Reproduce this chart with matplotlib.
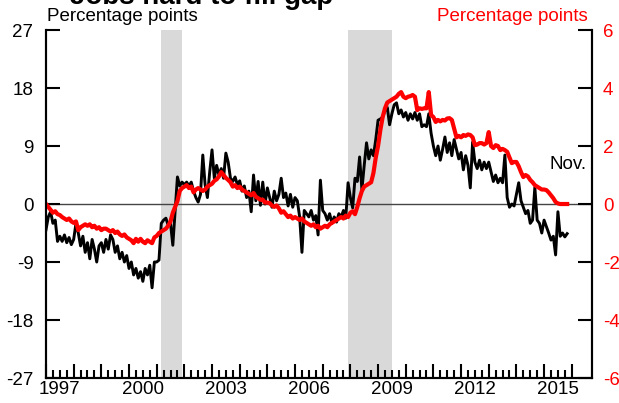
import numpy as np
import matplotlib
matplotlib.use('Agg')
import matplotlib.pyplot as plt

plt.rcParams['font.family'] = ['Liberation Sans', 'DejaVu Sans']
plt.rcParams['axes.unicode_minus'] = False

# monthly values, Jan 1997 - Nov 2015
# black line: left axis (percentage points)
b1997 = [-4.0, -2.0, -1.2, -3.0, -2.5, -5.8, -5.0, -5.8, -4.8, -6.0, -5.2, -6.3]
b1998 = [-5.5, -3.0, -4.5, -6.5, -5.0, -7.5, -6.0, -8.5, -5.5, -7.0, -9.0, -6.5]
b1999 = [-6.0, -7.5, -5.5, -7.0, -4.8, -5.5, -7.5, -6.5, -8.5, -7.5, -9.0, -8.0]
b2000 = [-10.0, -9.0, -11.0, -10.0, -11.5, -10.5, -12.0, -10.0, -11.0, -9.5, -13.0, -9.0]
b2001 = [-9.0, -8.7, -3.0, -2.5, -2.2, -3.3, -3.0, -6.4, -1.0, 4.2, 2.8, 3.4]
b2002 = [3.0, 3.4, 2.8, 3.4, 2.0, 1.0, 0.3, 1.5, 7.6, 3.0, 1.0, 5.0]
b2003 = [8.4, 4.0, 6.0, 4.5, 5.5, 4.0, 7.9, 6.5, 4.0, 3.5, 4.2, 3.0]
b2004 = [3.6, 2.0, 2.8, 1.0, 2.0, -1.2, 4.5, 0.5, 3.5, -0.2, 3.4, 0.0]
b2005 = [2.5, 1.0, -0.5, 2.0, 0.5, 1.5, 4.0, 1.0, 1.7, -0.3, 1.5, -0.5]
b2006 = [1.0, 0.5, -2.0, -7.5, -1.0, -1.5, -2.0, -1.0, -2.5, -1.8, -4.8, 3.7]
b2007 = [-1.0, -1.5, -2.5, -1.5, -3.0, -2.0, -2.8, -1.5, -2.0, -1.0, -2.2, 3.3]
b2008 = [1.0, -0.6, 4.0, 3.5, 7.3, 2.2, 6.0, 9.5, 7.0, 8.4, 7.5, 10.0]
b2009 = [13.0, 13.2, 13.5, 14.5, 15.0, 12.3, 14.0, 15.4, 15.7, 14.0, 14.6, 13.5]
b2010 = [14.2, 13.0, 14.0, 13.2, 14.2, 13.0, 14.0, 12.0, 12.3, 12.0, 14.0, 11.0]
b2011 = [9.0, 7.5, 9.0, 6.8, 8.5, 10.4, 8.0, 9.5, 7.5, 10.0, 8.5, 7.0]
b2012 = [8.0, 5.3, 7.5, 6.0, 2.5, 9.6, 6.5, 5.5, 6.8, 5.3, 6.5, 5.5]
b2013 = [6.5, 5.0, 3.5, 4.5, 3.3, 4.0, 3.3, 7.6, 1.0, -0.5, 0.0, -0.3]
b2014 = [1.5, 3.3, 0.5, -0.5, -1.5, -1.0, -3.0, -2.5, 2.6, -2.5, -3.0, -4.5]
b2015 = [-2.5, -3.5, -4.5, -5.6, -5.0, -7.9, -1.2, -5.0, -4.5, -5.1, -4.6]

# red line: right axis (percentage points)
r1997 = [0.0, -0.1, -0.2, -0.3, -0.25, -0.35, -0.38, -0.45, -0.5, -0.55, -0.5, -0.6]
r1998 = [-0.65, -0.6, -0.9, -0.8, -0.75, -0.7, -0.75, -0.7, -0.8, -0.75, -0.85, -0.8]
r1999 = [-0.9, -0.85, -0.85, -0.9, -0.95, -0.9, -1.0, -0.95, -1.05, -1.1, -1.05, -1.15]
r2000 = [-1.2, -1.25, -1.35, -1.2, -1.3, -1.2, -1.3, -1.35, -1.25, -1.3, -1.35, -1.15]
r2001 = [-1.1, -1.0, -0.95, -0.9, -0.85, -0.75, -0.6, -0.3, -0.1, 0.1, 0.45, 0.55]
r2002 = [0.6, 0.65, 0.55, 0.6, 0.4, 0.5, 0.55, 0.5, 0.45, 0.5, 0.6, 0.65]
r2003 = [0.7, 0.8, 0.85, 0.95, 1.1, 1.0, 0.9, 0.83, 0.75, 0.6, 0.65, 0.55]
r2004 = [0.6, 0.5, 0.45, 0.4, 0.35, 0.3, 0.38, 0.25, 0.2, 0.15, 0.15, 0.05]
r2005 = [0.05, 0.03, -0.05, -0.1, -0.05, -0.15, -0.3, -0.25, -0.35, -0.45, -0.4, -0.5]
r2006 = [-0.45, -0.5, -0.55, -0.5, -0.6, -0.65, -0.7, -0.75, -0.7, -0.8, -0.75, -0.85]
r2007 = [-0.8, -0.75, -0.8, -0.7, -0.65, -0.6, -0.55, -0.5, -0.45, -0.5, -0.4, -0.45]
r2008 = [-0.3, -0.25, -0.35, -0.1, 0.2, 0.45, 0.6, 0.65, 0.7, 0.75, 1.07, 1.6]
r2009 = [2.0, 2.55, 3.0, 3.3, 3.5, 3.55, 3.6, 3.65, 3.7, 3.8, 3.86, 3.7]
r2010 = [3.65, 3.7, 3.72, 3.76, 3.7, 3.24, 3.3, 3.28, 3.3, 3.3, 3.86, 3.07]
r2011 = [3.0, 2.83, 2.9, 2.85, 2.9, 2.88, 2.95, 2.96, 2.9, 2.6, 2.3, 2.35]
r2012 = [2.3, 2.38, 2.35, 2.4, 2.38, 2.3, 2.03, 2.05, 2.1, 2.1, 2.05, 2.1]
r2013 = [2.48, 2.0, 1.93, 2.03, 2.0, 1.86, 1.9, 1.86, 1.8, 1.6, 1.41, 1.45]
r2014 = [1.45, 1.3, 1.1, 0.93, 1.0, 0.95, 0.83, 0.75, 0.65, 0.6, 0.55, 0.5]
r2015 = [0.5, 0.48, 0.4, 0.3, 0.2, 0.07, 0.02, 0.0, 0.0, 0.0, 0.0]

# recessions (decimal years)
rec_start = [2001 + 2 / 12, 2007 + 11 / 12]
rec_end = [2001 + 11 / 12, 2009 + 6 / 12]

label_years = [1997, 2000, 2003, 2006, 2009, 2012, 2015]

black = np.concatenate([b1997, b1998, b1999, b2000, b2001, b2002, b2003, b2004, b2005, b2006,
                        b2007, b2008, b2009, b2010, b2011, b2012, b2013, b2014, b2015])
red = np.concatenate([r1997, r1998, r1999, r2000, r2001, r2002, r2003, r2004, r2005, r2006,
                      r2007, r2008, r2009, r2010, r2011, r2012, r2013, r2014, r2015])
t = 1997 + np.arange(len(black)) / 12

fig = plt.figure(figsize=(6.19, 4.03), dpi=100)
ax = fig.add_axes([0.0743, 0.062, 0.882, 0.8635])
ax2 = ax.twinx()

for s, e in zip(rec_start, rec_end):
    ax.axvspan(s, e, color='#d9d9d9', lw=0, zorder=0)
ax.axhline(0, color='#444444', lw=1.0, zorder=1)
ax.plot(t, black, color='black', lw=2.1, zorder=2)
ax2.plot(t, red, color='#ff0000', lw=3.0)

ax.set_xlim(1997, 2016.73)
ax.set_ylim(-27, 27)
ax2.set_ylim(-6, 6)
ax.set_yticks(np.arange(-27, 28, 9))
ax2.set_yticks(np.arange(-6, 7, 2))

ax.set_xticks(np.arange(1997, 2017))
ax.set_xticks(np.arange(1997, 2016.01, 0.25), minor=True)
ax.set_xticklabels([])
for y in label_years:
    ax.text(y + 0.5, -0.008, str(y), transform=ax.get_xaxis_transform(),
            ha='center', va='top', fontsize=13.5)

for a in (ax, ax2):
    a.spines['top'].set_visible(False)
    for sp in ('left', 'right', 'bottom'):
        a.spines[sp].set_linewidth(1.5)

ax.tick_params(axis='y', direction='in', length=10, width=1.5, labelsize=13.5, pad=9)
ax.tick_params(axis='x', which='major', direction='in', length=10, width=1.5)
ax.tick_params(axis='x', which='minor', direction='in', length=5.5, width=1.5)
ax2.tick_params(axis='y', direction='in', length=10, width=1.5, labelsize=13.5,
                pad=8, labelcolor='#ff0000')

ax2.text(2015.85, 1.35, 'Nov.', ha='center', va='center', fontsize=13.5)

fig.text(0.076, 0.948, 'Percentage points', ha='left', va='baseline', fontsize=13.5)
fig.text(0.950, 0.948, 'Percentage points', ha='right', va='baseline', fontsize=13.5,
         color='#ff0000')
fig.text(0.326, 0.99, 'Jobs hard to fill gap', ha='center', va='baseline',
         fontsize=20, fontweight='bold')

fig.savefig('out.png', dpi=100)
